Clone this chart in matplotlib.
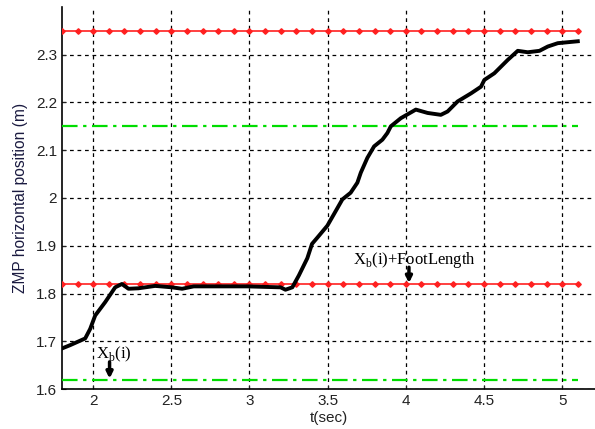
import numpy as np
import matplotlib.pyplot as plt

# ZMP trajectory
t = [1.80, 1.853, 1.949, 1.981, 2.013, 2.077, 2.141, 2.184, 2.226, 2.29, 2.397,
     2.504, 2.569, 2.643, 2.985, 3.199, 3.23, 3.274, 3.316, 3.37, 3.40, 3.434,
     3.498, 3.54, 3.594, 3.647, 3.69, 3.712, 3.754, 3.797, 3.85, 3.882, 3.904,
     3.968, 4.064, 4.139, 4.224, 4.267, 4.331, 4.417, 4.481, 4.502, 4.566,
     4.652, 4.716, 4.78, 4.855, 4.908, 4.972, 5.036, 5.10]
zmp = [1.685, 1.692, 1.706, 1.726, 1.754, 1.782, 1.813, 1.820, 1.810, 1.811, 1.816,
       1.813, 1.810, 1.815, 1.815, 1.813, 1.808, 1.813, 1.838, 1.874, 1.904, 1.917,
       1.942, 1.966, 1.997, 2.011, 2.032, 2.053, 2.084, 2.108, 2.122, 2.136, 2.150,
       2.167, 2.185, 2.178, 2.174, 2.181, 2.202, 2.219, 2.233, 2.247, 2.261,
       2.289, 2.308, 2.305, 2.308, 2.317, 2.324, 2.326, 2.328]

# support polygon bounds
upper_red = 2.35
lower_red = 1.82
upper_green = 2.15
lower_green = 1.62
t_bounds = np.arange(1.8, 5.1001, 0.1)

plt.rcParams['font.family'] = ['Liberation Sans', 'DejaVu Sans']

fig = plt.figure(figsize=(5.95, 4.29), dpi=100)
ax = fig.add_axes([0.104, 0.093, 0.896, 0.891])

ax.grid(True, color='black', linestyle=(0, (3, 3)), linewidth=0.9)
ax.set_axisbelow(True)

for yv in (upper_red, lower_red):
    ax.plot(t_bounds, np.full_like(t_bounds, yv), color='#ff2020', linewidth=1.2,
            marker='D', markersize=2.8, zorder=3)
for yv in (upper_green, lower_green):
    ax.plot(t_bounds, np.full_like(t_bounds, yv), color='#00dd00', linewidth=1.6,
            linestyle=(0, (7, 2.5, 1.5, 2.5)), zorder=3)

ax.plot(t, zmp, color='black', linewidth=2.8, zorder=4)

ax.annotate('', xy=(2.105, 1.622), xytext=(2.105, 1.657),
            arrowprops=dict(arrowstyle='-|>', color='black', lw=2.5,
                            mutation_scale=9, shrinkA=0, shrinkB=0), zorder=5)
ax.text(2.02, 1.673, r'X$_\mathregular{b}$(i)', family='Liberation Serif', fontsize=12,
        va='center', ha='left', zorder=5)
ax.annotate('', xy=(4.02, 1.822), xytext=(4.02, 1.855),
            arrowprops=dict(arrowstyle='-|>', color='black', lw=2.5,
                            mutation_scale=9, shrinkA=0, shrinkB=0), zorder=5)
ax.text(3.66, 1.871, r'X$_\mathregular{b}$(i)+FootLength', family='Liberation Serif',
        fontsize=12, va='center', ha='left', zorder=5)

ax.set_xlim(1.8, 5.21)
ax.set_ylim(1.6, 2.4)
ax.set_xticks([2, 2.5, 3, 3.5, 4, 4.5, 5])
ax.set_xticklabels(['2', '2.5', '3', '3.5', '4', '4.5', '5'])
ax.set_yticks([1.6, 1.7, 1.8, 1.9, 2.0, 2.1, 2.2, 2.3])
ax.set_yticklabels(['1.6', '1.7', '1.8', '1.9', '2', '2.1', '2.2', '2.3'])
ax.tick_params(direction='in', length=3, labelsize=11, colors='#222222')
ax.spines['top'].set_visible(False)
ax.spines['right'].set_visible(False)
ax.spines['left'].set_linewidth(1.2)
ax.spines['bottom'].set_linewidth(1.2)

ax.set_xlabel('t(sec)', fontsize=11, color='#222222', labelpad=2)
ax.set_ylabel('ZMP horizontal position (m)', fontsize=11.2, color='#1a1a40', labelpad=6)

fig.savefig('out.png', dpi=100)
